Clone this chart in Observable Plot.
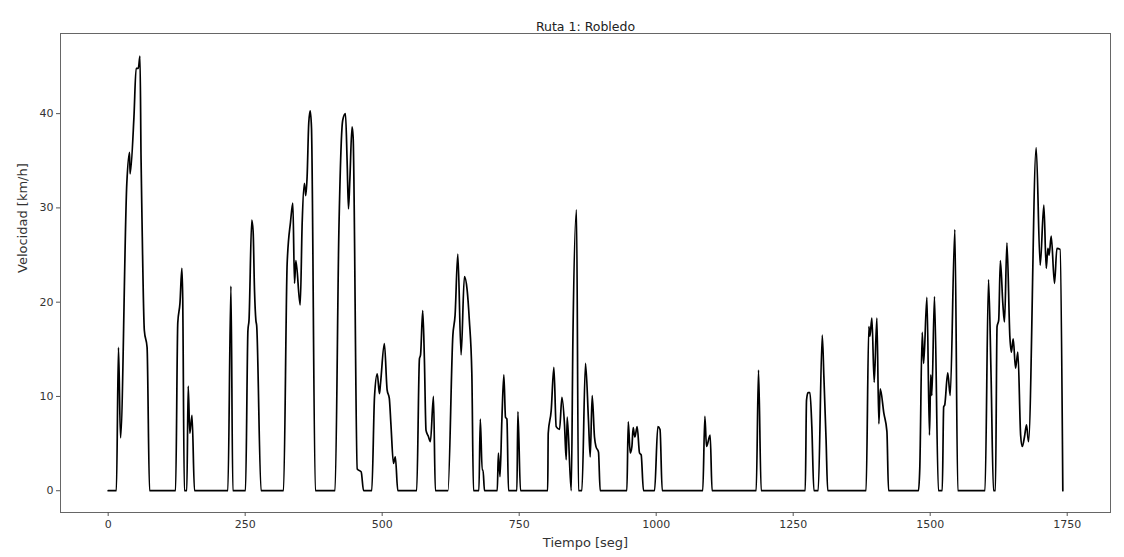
<!DOCTYPE html>
<html>
<head>
<meta charset="utf-8">
<script src="https://cdn.jsdelivr.net/npm/d3@7"></script>
<script src="https://cdn.jsdelivr.net/npm/@observablehq/plot@0.6"></script>
<style>
  html, body { margin: 0; padding: 0; background: #fff; }
  svg { display: block; }
</style>
</head>
<body>
<div id="chart"></div>
<script>
const title = "Ruta 1: Robledo";
const xLabel = "Tiempo [seg]";
const yLabel = "Velocidad [km/h]";
const xTicks = [0, 250, 500, 750, 1000, 1250, 1500, 1750];
const yTicks = [0, 10, 20, 30, 40];

const tiempo = [
  0, 15, 18.8, 22.5, 34, 39, 40, 47, 51, 55, 58, 60, 61.5, 66, 71, 75.5,
  123, 127, 131, 134.5, 136, 139, 143.5, 146, 149, 153, 157.5,
  218.4, 224, 227.5, 250.6, 255, 257, 262, 264.5, 267, 269.5, 271, 279,
  320, 326.6, 332.7, 337, 340, 342.5, 350.4, 354, 358, 360.5, 363, 366, 368.6, 371, 378,
  414, 421, 428, 433, 436, 438.5, 441, 445, 447, 454.5, 461.7, 466,
  481, 486, 491, 495, 497, 504, 509, 513, 516, 520.6, 524, 528.5,
  563, 568, 570, 574, 577, 580, 584, 588, 593.6, 597,
  620, 629, 633, 638, 644, 650, 655, 659, 663.6, 666.6,
  676.5, 679, 682.5, 684, 686.7,
  710, 712, 715, 718.4, 722, 725, 727.6, 730.5,
  745.8, 747.6, 752.4,
  802, 803, 808.4, 813.3, 817.5, 823.6, 828, 832.7, 835.8, 837.6, 845, 848, 854.6, 858.2,
  864.4, 871, 876.4, 879.6, 883.2, 887.4, 890, 894.7, 897.8,
  946.5, 949, 952.6, 955.7, 958, 961, 965.3, 969.6, 972.6, 976.8,
  997, 1003, 1007, 1011,
  1085, 1088.8, 1091.8, 1098.5, 1102,
  1182.5, 1186.7, 1191.6,
  1272, 1274.3, 1277, 1280.6, 1284, 1287.8, 1295.6, 1303, 1306, 1310, 1313,
  1383, 1388, 1390, 1393.6, 1397.8, 1402.7, 1406.3, 1408.8, 1415.5, 1421, 1424,
  1478.6, 1481, 1485.4, 1488, 1494, 1498.7, 1501, 1503, 1507.8, 1515,
  1522, 1524.6, 1526.5, 1532, 1536.5, 1545, 1550.4,
  1600, 1606.4, 1611, 1615.5, 1619, 1622, 1625, 1628, 1632.6, 1635.6, 1640, 1645.4, 1648,
  1651.5, 1655.7, 1660, 1665, 1668, 1672, 1675.7, 1679.4, 1693.4, 1700.7, 1707.4, 1711.7,
  1714.8, 1717, 1720.8, 1726.8, 1731.2, 1737, 1742
];
const velocidad = [
  0, 0, 15.2, 5.6, 32.6, 35.9, 33.6, 39.6, 44.8, 44.8, 46.1, 35.2, 29.6, 17, 15.2, 0,
  0, 17.8, 19.9, 23.6, 20.5, 0, 0, 11.1, 6.1, 8, 0,
  0, 21.7, 0, 0, 17, 18.1, 28.7, 27.5, 21.3, 18.1, 17.5, 0,
  0, 24.1, 28.5, 30.5, 22, 24.4, 19.7, 28.4, 32.6, 31.3, 33.3, 39, 40.3, 38.5, 0,
  0, 27.6, 39.3, 40, 35, 29.9, 33, 38.6, 37.5, 2.3, 2.0, 0,
  0, 10, 12.4, 10.3, 11.4, 15.6, 10.7, 9.8, 7, 2.9, 3.6, 0,
  0, 14, 14.4, 19.1, 14, 6.4, 5.8, 5.2, 10, 0,
  0, 16.5, 18.6, 25.1, 14.4, 22.7, 21.3, 18.1, 12.4, 0,
  0, 7.6, 2.2, 2.2, 0,
  0, 4, 1.5, 7.5, 12.3, 7.8, 7.6, 0,
  0, 8.4, 0,
  0, 6.1, 8.5, 13.1, 6.8, 6.5, 9.9, 7, 3.3, 7.8, 0, 16, 29.8, 0,
  0, 13.5, 7.5, 3.6, 10.1, 5.7, 4.7, 4.1, 0,
  0, 7.3, 4, 4.7, 6.7, 5.7, 6.8, 4, 3.8, 0,
  0, 6.8, 6.5, 0,
  0, 7.9, 4.7, 5.9, 0,
  0, 12.8, 0,
  0, 9.6, 10.4, 10.4, 6.8, 0, 0, 16.5, 12.1, 5.4, 0,
  0, 17.4, 16.4, 18.3, 11.5, 18.3, 7.1, 10.8, 8.2, 6.3, 0,
  0, 2.4, 16.8, 13.5, 20.5, 5.9, 12.3, 10.1, 20.6, 0,
  0, 8.9, 9.1, 12.5, 10.1, 27.7, 0,
  0, 22.4, 12.4, 0, 0, 17.4, 18.1, 24.4, 19.8, 17.9, 26.3, 16.3, 14.7,
  16.1, 13, 14.7, 5.9, 4.7, 5.7, 7, 5.2, 36.4, 23.9, 30.3, 23.6,
  25.7, 25, 27, 22, 25.7, 25.6, 0
];

const data = tiempo.map((t, i) => ({t, v: velocidad[i]}));
const font = "DejaVu Sans, sans-serif";

const chart = Plot.plot({
  width: 1124,
  height: 557,
  marginLeft: 60,
  marginRight: 14,
  marginTop: 33,
  marginBottom: 45,
  style: {fontFamily: font, fontSize: "11px", color: "#333", background: "#fff"},
  x: {domain: [-87, 1829]},
  y: {domain: [-2.31, 48.5]},
  marks: [
    Plot.frame({stroke: "#666", strokeWidth: 1}),
    Plot.line(data, {x: "t", y: "v", stroke: "#000", strokeWidth: 1.7, curve: "monotone-x"}),
    Plot.axisX({ticks: xTicks, tickFormat: d => String(d), tickSize: 4, tickPadding: 4, label: null, stroke: "#555", fill: "#333", fontSize: 11}),
    Plot.axisY({ticks: yTicks, tickFormat: d => String(d), tickSize: 4, tickPadding: 3, label: null, stroke: "#555", fill: "#333", fontSize: 11}),
    Plot.text([title], {frameAnchor: "top", dy: -11, text: d => d, fontSize: 12.5, fill: "#222"}),
    Plot.text([xLabel], {frameAnchor: "bottom", dy: 34, text: d => d, fontSize: 13, fill: "#333"}),
    Plot.text([yLabel], {frameAnchor: "left", dx: -38, rotate: -90, text: d => d, fontSize: 13, fill: "#333"})
  ]
});
document.getElementById("chart").appendChild(chart);
</script>
</body>
</html>
